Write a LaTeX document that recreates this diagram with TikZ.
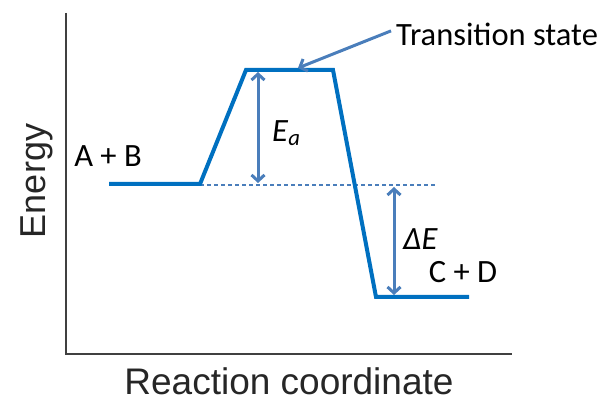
\documentclass[tikz,border=0pt]{standalone}
\usepackage{fontspec}
\setmainfont{Carlito}
\newfontfamily\axisfont{Liberation Sans}
\usetikzlibrary{arrows.meta,positioning}
\definecolor{pathblue}{RGB}{0,112,192}
\definecolor{arrowblue}{RGB}{74,126,187}
\definecolor{axisgray}{RGB}{64,64,64}
\definecolor{labelgray}{RGB}{38,38,38}

\begin{document}
\begin{tikzpicture}[
    x=1pt, y=-1pt,
    lbl/.style={inner sep=0pt, font=\fontsize{32.5}{38}\selectfont},
    axlbl/.style={inner sep=0pt, font=\axisfont\fontsize{36}{42}\selectfont, text=labelgray},
    curve/.style={draw=pathblue, line width=4pt, line join=miter},
    gap/.style={draw=arrowblue, line width=3pt, {Straight Barb[length=6pt,width=13pt]}-{Straight Barb[length=6pt,width=13pt]}},
    arr/.style={draw=arrowblue, line width=3pt, -{Straight Barb[length=6pt,width=13pt]}}
  ]
    \useasboundingbox (0,0) rectangle (608,403);

    % axes
    \coordinate (top) at (66,13);
    \coordinate (origin) at (66,354);
    \coordinate (right) at (512,354);
    \draw[axisgray, line width=2pt] (top) -- (origin) -- (right);
    \node[axlbl, rotate=90, anchor=base] (energy) at (45,181) {Energy};
    \node[axlbl, anchor=base, font=\axisfont\fontsize{37}{44}\selectfont] (rc) at (289,395) {Reaction coordinate};

    % energy profile
    \coordinate (r1) at (109,184);
    \coordinate (r2) at (200,184);
    \coordinate (t1) at (246,70);
    \coordinate (t2) at (333,70);
    \coordinate (p1) at (376,297);
    \coordinate (p2) at (469,297);
    \coordinate (dend) at (435,185);
    \draw[arrowblue, line width=1.3pt, dash pattern=on 4pt off 3pt] (r2) ++(0,1) -- (dend);
    \draw[curve] (r1) -- (r2) -- (t1) -- (t2) -- (p1) -- (p2);

    % gaps
    \coordinate (eatop) at (258,72);
    \coordinate (eabot) at (258,183);
    \coordinate (detop) at (394,187);
    \coordinate (debot) at (394,295);
    \draw[gap] (eatop) -- (eabot);
    \draw[gap] (detop) -- (debot);

    % labels
    \node[lbl, anchor=base] (ab) at (108,167) {A + B};
    \node[lbl, anchor=base] (cd) at (463,283) {C + D};
    \node[lbl, anchor=base west] (ea) at (272,142) {\textit{E}\textsubscript{\textit{a}}};
    \node[lbl, anchor=base west] (de) at (403,250) {\textit{ΔE}};
    \node[lbl, anchor=base west] (ts) at (396,46) {Transition state};
    \coordinate (tspt) at (298,68);
    \draw[arr] (ts.west) ++(-5,-4) -- (tspt);
\end{tikzpicture}
\end{document}
